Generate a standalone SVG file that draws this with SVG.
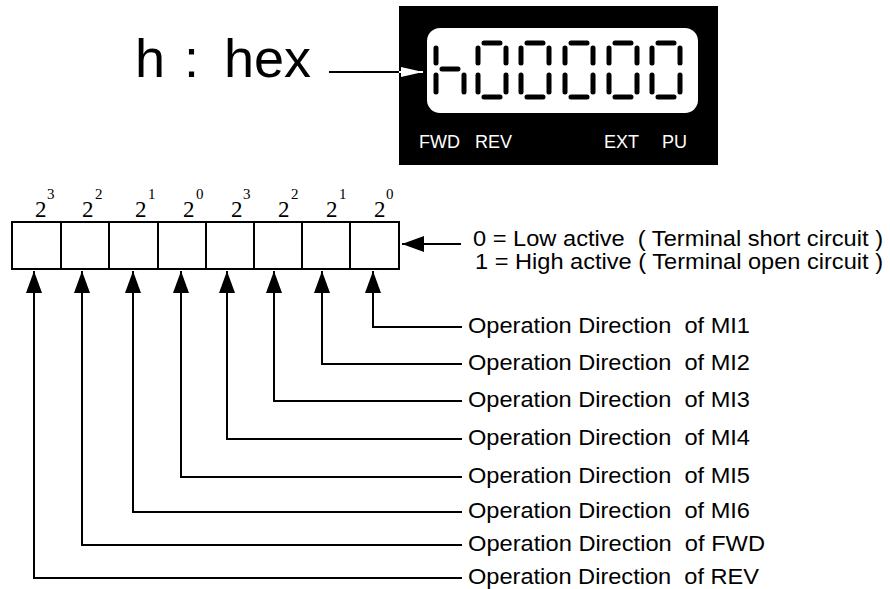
<svg xmlns="http://www.w3.org/2000/svg" width="890" height="589" viewBox="0 0 890 589">
<defs>
<style>
.sans{font-family:"Liberation Sans",Arial,sans-serif;fill:#000}
.serif{font-family:"Liberation Serif","Times New Roman",serif;fill:#000}
.seg{stroke:#000;stroke-width:5;stroke-linecap:round;fill:none}
.ln{stroke:#000;stroke-width:2;fill:none}
.lbl{font-size:22px}
.led{font-family:"Liberation Sans",Arial,sans-serif;font-size:18px;fill:#fff}
</style>
<marker id="ah" markerUnits="userSpaceOnUse" markerWidth="24" markerHeight="18" refX="22" refY="8" orient="auto">
<path d="M0,0 L22,8 L0,16 Z" fill="#000"/>
</marker>
<marker id="ahw" markerUnits="userSpaceOnUse" markerWidth="24" markerHeight="12" refX="22" refY="5" orient="auto">
<path d="M0,0 L22,5 L0,10 Z" fill="#fff"/>
</marker>
<g id="zero">
<path class="seg" d="M6,43 H22 M6,97 H22 M0,48 V63 M0,75 V92 M28,48 V63 M28,75 V92"/>
</g>
</defs>
<rect width="890" height="589" fill="#fff"/>

<g id="hex-label">
<text class="sans" x="135" y="77" font-size="54">h</text>
<text class="sans" x="184" y="77" font-size="54">:</text>
<text class="sans" x="224" y="77" font-size="54">hex</text>
</g>

<g id="display">
<rect x="399" y="6" width="319" height="159" fill="#000"/>
<rect x="427" y="28" width="271" height="85" rx="13" fill="#fff"/>
<g id="digits">
<path class="seg" d="M436,48 V63 M436,75 V92 M442,69 H458 M464,75 V92"/>
<use href="#zero" x="478"/>
<use href="#zero" x="521"/>
<use href="#zero" x="565"/>
<use href="#zero" x="609"/>
<use href="#zero" x="652"/>
</g>
<text class="led" x="419" y="148">FWD</text>
<text class="led" x="475" y="148">REV</text>
<text class="led" x="604" y="148">EXT</text>
<text class="led" x="662" y="148">PU</text>
</g>

<g id="bits">
<rect x="12" y="222" width="387" height="47" fill="#fff" stroke="#000" stroke-width="2"/>
<path class="ln" d="M61,222 V269 M109,222 V269 M158,222 V269 M206,222 V269 M254,222 V269 M302,222 V269 M350,222 V269"/>
<g class="serif">
<text x="35" y="217" font-size="23">2</text><text x="47" y="199" font-size="15">3</text>
<text x="82" y="217" font-size="23">2</text><text x="95" y="199" font-size="15">2</text>
<text x="135" y="217" font-size="23">2</text><text x="148" y="199" font-size="15">1</text>
<text x="183" y="217" font-size="23">2</text><text x="196" y="199" font-size="15">0</text>
<text x="231" y="217" font-size="23">2</text><text x="243" y="199" font-size="15">3</text>
<text x="278" y="217" font-size="23">2</text><text x="291" y="199" font-size="15">2</text>
<text x="326" y="217" font-size="23">2</text><text x="339" y="199" font-size="15">1</text>
<text x="374" y="217" font-size="23">2</text><text x="386" y="199" font-size="15">0</text>
</g>
</g>

<g id="legend" class="sans lbl">
<text x="473" y="246" textLength="410" lengthAdjust="spacingAndGlyphs">0 = Low active&#160; ( Terminal short circuit )</text>
<text x="475" y="269" textLength="408" lengthAdjust="spacingAndGlyphs">1 = High active ( Terminal open circuit )</text>
</g>

<g id="labels" class="sans lbl">
<text x="468" y="333" textLength="282" lengthAdjust="spacingAndGlyphs">Operation Direction&#160; of MI1</text>
<text x="468" y="370" textLength="282" lengthAdjust="spacingAndGlyphs">Operation Direction&#160; of MI2</text>
<text x="468" y="407" textLength="282" lengthAdjust="spacingAndGlyphs">Operation Direction&#160; of MI3</text>
<text x="468" y="445" textLength="282" lengthAdjust="spacingAndGlyphs">Operation Direction&#160; of MI4</text>
<text x="468" y="483" textLength="282" lengthAdjust="spacingAndGlyphs">Operation Direction&#160; of MI5</text>
<text x="468" y="518" textLength="282" lengthAdjust="spacingAndGlyphs">Operation Direction&#160; of MI6</text>
<text x="468" y="551" textLength="297" lengthAdjust="spacingAndGlyphs">Operation Direction&#160; of FWD</text>
<text x="468" y="584" textLength="291" lengthAdjust="spacingAndGlyphs">Operation Direction&#160; of REV</text>
</g>

<g id="connectors">
<path class="ln" d="M329,72 H399"/>
<path d="M399,72 H423" stroke="#fff" stroke-width="2" fill="none" marker-end="url(#ahw)"/>
<path class="ln" d="M461,244 H402" marker-end="url(#ah)"/>
<path class="ln" d="M462,327 H373 V271" marker-end="url(#ah)"/>
<path class="ln" d="M462,364 H322 V271" marker-end="url(#ah)"/>
<path class="ln" d="M462,401 H274 V271" marker-end="url(#ah)"/>
<path class="ln" d="M462,439 H227 V271" marker-end="url(#ah)"/>
<path class="ln" d="M462,477 H181 V271" marker-end="url(#ah)"/>
<path class="ln" d="M462,512 H133 V271" marker-end="url(#ah)"/>
<path class="ln" d="M462,545 H82 V271" marker-end="url(#ah)"/>
<path class="ln" d="M462,578 H34 V271" marker-end="url(#ah)"/>
</g>
</svg>
